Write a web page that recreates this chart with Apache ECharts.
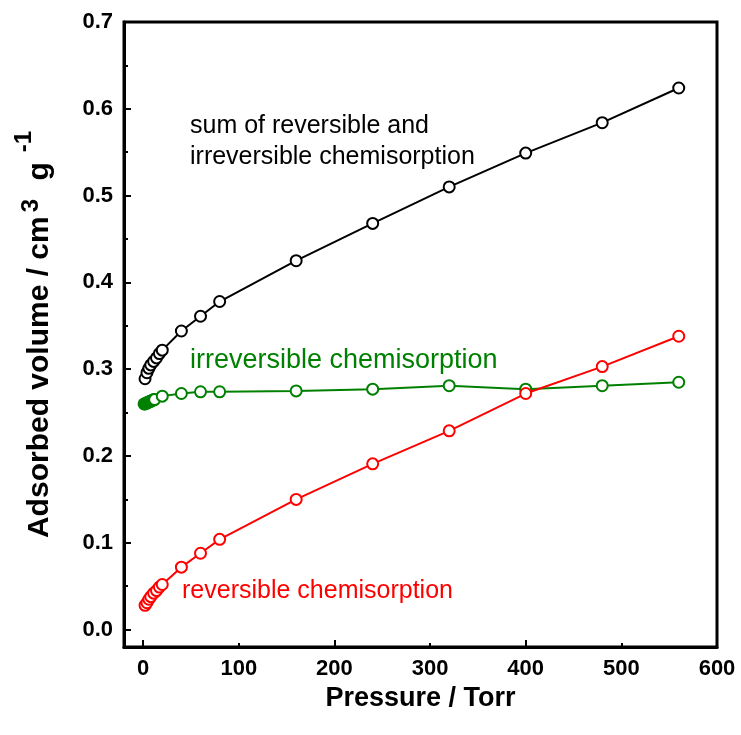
<!DOCTYPE html>
<html>
<head>
<meta charset="utf-8">
<script src="https://cdn.jsdelivr.net/npm/echarts@6/dist/echarts.min.js"></script>
<style>
html,body{margin:0;padding:0;background:#fff;}
#chart{width:741px;height:735px;}
</style>
</head>
<body>
<div id="chart"></div>
<script>
// Pressure (Torr)
const pressure = [2, 4, 6, 8, 11, 14, 17, 20, 40, 60, 80, 160, 240, 320, 400, 480, 560];
const pressureIrrev = [1, 2, 3, 4, 5, 6, 7, 8, 9, 10, 11, 12, 20, 40, 60, 80, 160, 240, 320, 400, 480, 560];
// Adsorbed volume (cm3 g-1)
const sumValues = [0.289, 0.296, 0.301, 0.305, 0.309, 0.313, 0.318, 0.322, 0.344, 0.361, 0.378, 0.425, 0.468, 0.510, 0.549, 0.584, 0.624];
const irrevValues = [0.260, 0.260, 0.261, 0.261, 0.262, 0.262, 0.263, 0.263, 0.264, 0.264, 0.265, 0.265, 0.269, 0.272, 0.274, 0.274, 0.275, 0.277, 0.281, 0.277, 0.281, 0.285];
const revValues = [0.028, 0.031, 0.035, 0.038, 0.042, 0.045, 0.049, 0.052, 0.072, 0.088, 0.104, 0.150, 0.191, 0.229, 0.272, 0.303, 0.338];
const xTickLabels = ['0', '100', '200', '300', '400', '500', '600'];
const yTickLabels = ['0.0', '0.1', '0.2', '0.3', '0.4', '0.5', '0.6', '0.7'];

const FONT = 'Liberation Sans, Arial, sans-serif';
const chart = echarts.init(document.getElementById('chart'));

function pairs(xs, vals) { return xs.map((p, i) => [p, vals[i]]); }
function mkSeries(name, xs, vals, color) {
  return {
    name, type: 'line', data: pairs(xs, vals),
    symbol: 'circle', symbolSize: 11, showSymbol: true,
    itemStyle: { color: '#fff', borderColor: color, borderWidth: 2 },
    lineStyle: { color: color, width: 2 },
    emphasis: { disabled: true }, animation: false, z: 3
  };
}

const option = {
  animation: false,
  grid: { left: 124, right: 24, top: 22, bottom: 88, show: true, borderColor: '#000', borderWidth: 3, backgroundColor: 'transparent' },
  xAxis: [{
    type: 'value', min: -20, max: 600, splitNumber: 6, minInterval: 100, maxInterval: 100,
    axisLine: { show: true, onZero: false, lineStyle: { color: '#000', width: 3 } },
    axisTick: { show: true, inside: true, length: 4, lineStyle: { color: '#000', width: 2 } },
    axisLabel: { showMinLabel: false, color: '#000', fontFamily: FONT, fontWeight: 'bold', fontSize: 22, margin: 11,
      formatter: v => { const i = Math.round(v / 100); return (Math.abs(v - i * 100) < 1e-6 && xTickLabels[i] !== undefined) ? xTickLabels[i] : ''; } },
    splitLine: { show: false },
    name: 'Pressure / Torr', nameLocation: 'middle', nameGap: 28,
    nameTextStyle: { color: '#000', fontFamily: FONT, fontWeight: 'bold', fontSize: 27 }
  }, {
    type: 'value', min: -20, max: 600, splitNumber: 3, minInterval: 200, maxInterval: 200, position: 'bottom',
    axisLine: { show: false, onZero: false },
    axisTick: { show: true, inside: true, length: 7, lineStyle: { color: '#000', width: 2 } },
    axisLabel: { show: false }, splitLine: { show: false }
  }],
  yAxis: {
    type: 'value', min: -0.02, max: 0.7, splitNumber: 7, minInterval: 0.1, maxInterval: 0.1,
    axisLine: { show: true, onZero: false, lineStyle: { color: '#000', width: 3 } },
    axisTick: { show: true, inside: true, length: 7, lineStyle: { color: '#000', width: 2 } },
    minorTick: { show: true, splitNumber: 2, length: 4, lineStyle: { color: '#000', width: 2 } },
    axisLabel: { showMinLabel: false, color: '#000', fontFamily: FONT, fontWeight: 'bold', fontSize: 22, margin: 11,
      formatter: v => { const i = Math.round(v * 10); return (Math.abs(v - i / 10) < 1e-6 && yTickLabels[i] !== undefined) ? yTickLabels[i] : ''; } },
    splitLine: { show: false },
    name: '{t|Adsorbed volume / cm}{s|3}{t| g}{s2|-1}', nameLocation: 'middle', nameGap: 56, nameRotate: 90,
    nameTextStyle: {
      color: '#000', fontFamily: FONT, fontWeight: 'bold', fontSize: 30,
      rich: {
        t: { fontFamily: FONT, fontWeight: 'bold', fontSize: 30, color: '#000' },
        s: { fontFamily: FONT, fontWeight: 'bold', fontSize: 24, color: '#000', padding: [0, 10, 18, 4] },
        s2: { fontFamily: FONT, fontWeight: 'bold', fontSize: 24, color: '#000', padding: [0, 0, 32, 10] }
      }
    }
  },
  series: [
    mkSeries('sum', pressure, sumValues, '#000'),
    mkSeries('irreversible', pressureIrrev, irrevValues, '#008000'),
    mkSeries('reversible', pressure, revValues, '#ff0000')
  ],
  graphic: [
    { type: 'text', left: 190, top: 111, style: { text: 'sum of reversible and\nirreversible chemisorption', fill: '#000', font: '25px ' + FONT, lineHeight: 31 } },
    { type: 'text', left: 190, top: 345, style: { text: 'irreversible chemisorption', fill: '#008000', font: '27px ' + FONT, lineHeight: 31 } },
    { type: 'text', left: 182, top: 576, style: { text: 'reversible chemisorption', fill: '#ff0000', font: '25px ' + FONT, lineHeight: 31 } }
  ]
};
chart.setOption(option);
</script>
</body>
</html>
